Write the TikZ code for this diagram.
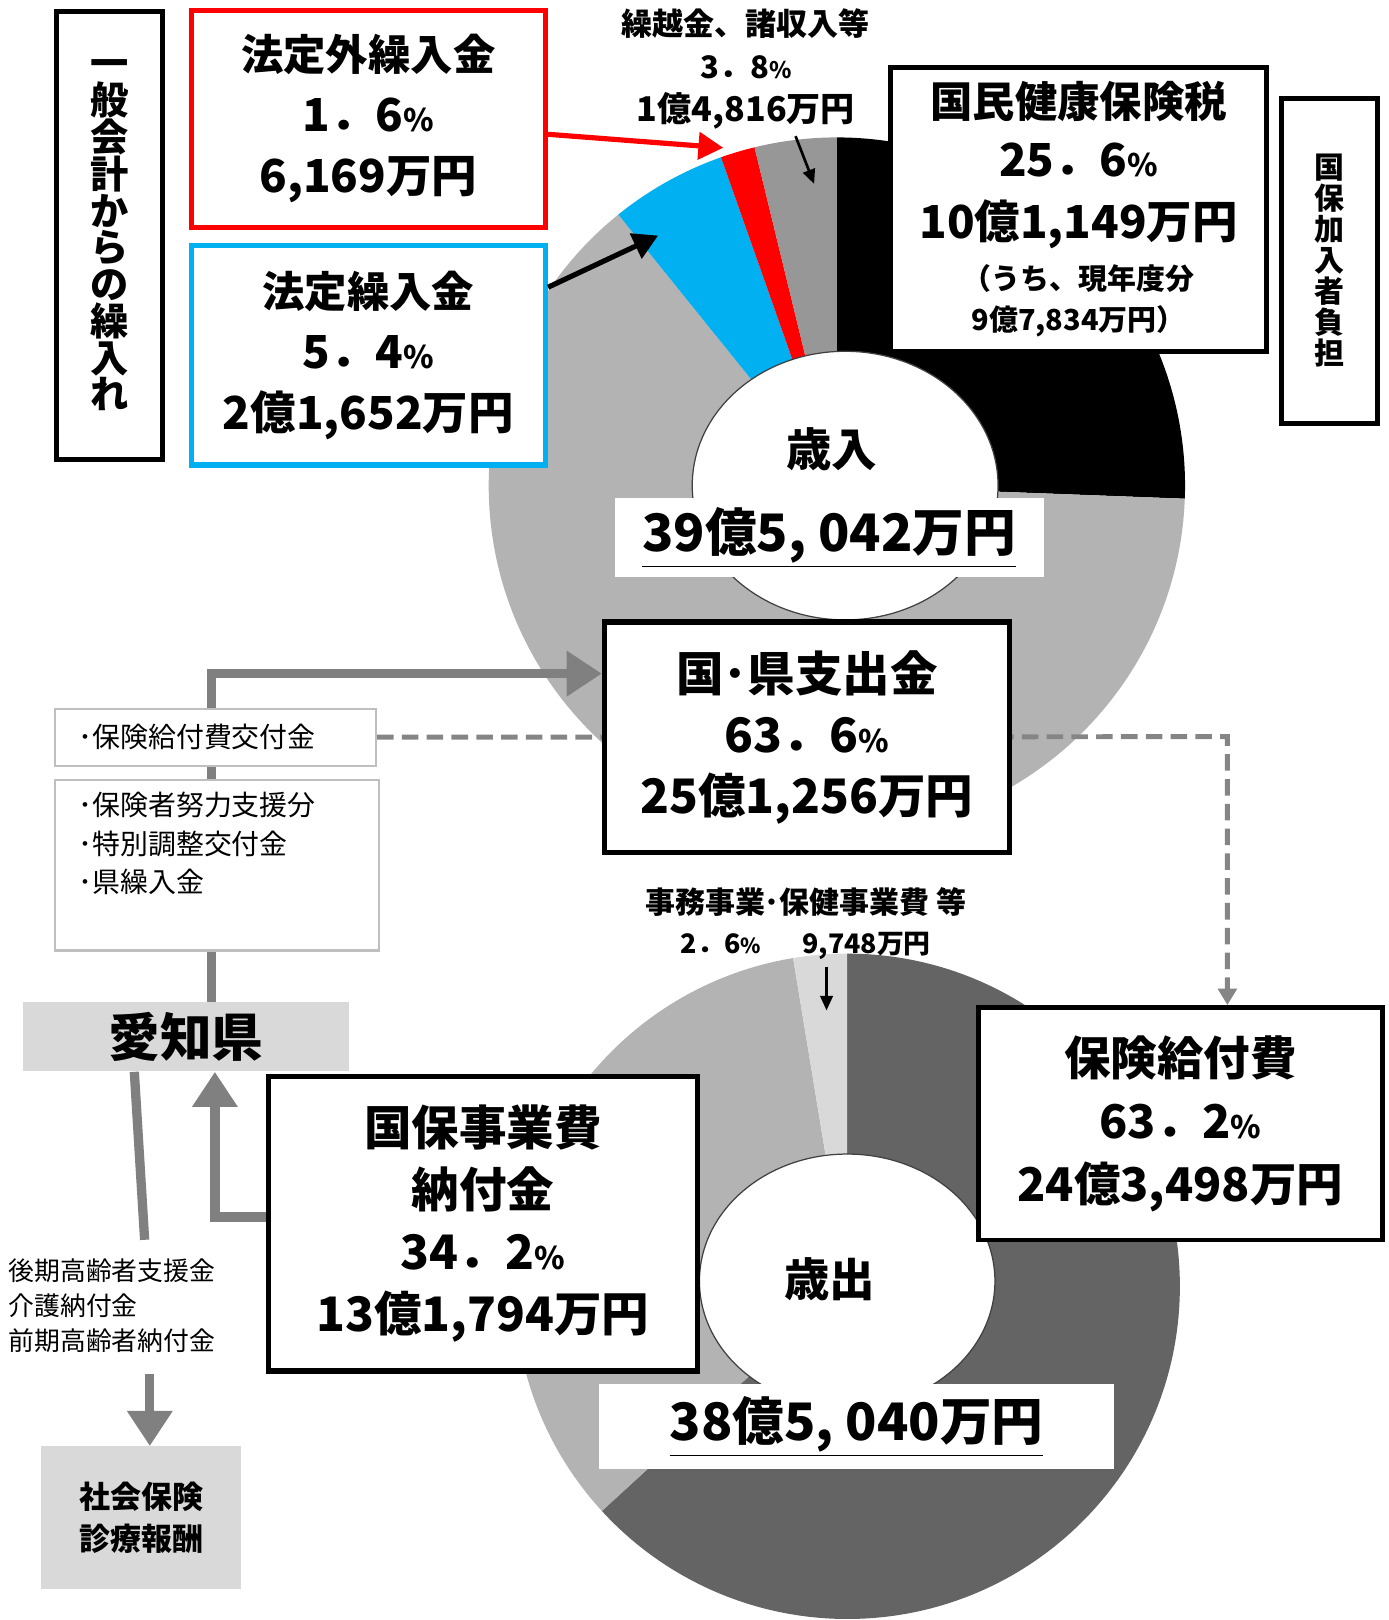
\documentclass[tikz,border=0pt]{standalone}
\usepackage{fontspec}
\setmainfont{Noto Sans CJK JP}
\usetikzlibrary{positioning,calc,arrows.meta}
\definecolor{pieA}{HTML}{B3B3B3}
\definecolor{pieB}{HTML}{979797}
\definecolor{pieDark}{HTML}{646464}
\definecolor{pieLight}{HTML}{D9D9D9}
\definecolor{kuBlue}{HTML}{00B0F0}
\definecolor{flowGrey}{HTML}{808080}
\definecolor{dashGrey}{HTML}{858585}
\definecolor{boxGrey}{HTML}{BFBFBF}
\newcommand{\fz}[1]{\fontsize{#1}{\baselineskip}\selectfont}
\newcommand{\pcs}{{\fz{15}\%}}
\newcommand{\tightls}{\lineskiplimit-50pt\relax}
\pgfdeclarelayer{pielayer}
\pgfdeclarelayer{linklayer}
\pgfsetlayers{pielayer,linklayer,main}

\begin{document}
\begin{tikzpicture}[x=0.5pt, y=-0.5pt,
    kin box/.style={draw, line width=2.5pt, fill=white, align=center, inner sep=0pt,
      font={\bfseries\fontsize{22}{29.5}\selectfont\tightls}},
    grey box/.style={draw=boxGrey, line width=1pt, fill=white, align=left, inner xsep=11.5pt,
      font={\fontsize{13.5}{18.5}\selectfont}},
    flow/.style={draw=flowGrey, line width=4.5pt},
    flow tip/.style={-{Triangle[length=17pt,width=21pt]}},
    dash flow/.style={draw=dashGrey, line width=2.4pt, dash pattern=on 8pt off 4pt,
      -{Triangle[length=8pt,width=9pt]}},
    thin arrow/.style={line width=1.3pt, -{Triangle[length=7pt,width=6pt]}},
    node distance=6pt]

    \useasboundingbox (0,0) rectangle (1344,1568);

    % revenue donut
    \coordinate (topc) at (810,470);
    \begin{pgfonlayer}{pielayer}
    \begin{scope}[shift={(topc)}, x=0.5pt, y=0.5pt]
        \fill[black] (0,0) -- (90:337) arc[start angle=90, end angle=-2.16, radius=337] -- cycle;
        \fill[pieA] (0,0) -- (-2.16:337) arc[start angle=-2.16, end angle=-231.12, radius=337] -- cycle;
        \fill[kuBlue] (0,0) -- (-231.12:337) arc[start angle=-231.12, end angle=-250.56, radius=337] -- cycle;
        \fill[red] (0,0) -- (-250.56:337) arc[start angle=-250.56, end angle=-256.32, radius=337] -- cycle;
        \fill[pieB] (0,0) -- (-256.32:337) arc[start angle=-256.32, end angle=-270, radius=337] -- cycle;
        \filldraw[fill=white, draw=black!75, line width=0.6pt] (8,0) ellipse[x radius=148, y radius=130];
    \end{scope}
    \end{pgfonlayer}

    % expenditure donut
    \coordinate (botc) at (820,1245);
    \begin{pgfonlayer}{pielayer}
    \begin{scope}[shift={(botc)}, x=0.5pt, y=0.5pt]
        \fill[pieDark] (0,0) -- (90:322) arc[start angle=90, end angle=-137.52, radius=322] -- cycle;
        \fill[pieA] (0,0) -- (-137.52:322) arc[start angle=-137.52, end angle=-260.64, radius=322] -- cycle;
        \fill[pieLight] (0,0) -- (-260.64:322) arc[start angle=-260.64, end angle=-270, radius=322] -- cycle;
        \filldraw[fill=white, draw=black!75, line width=0.6pt] (0,5) ellipse[x radius=143, y radius=123];
    \end{scope}
    \end{pgfonlayer}

    \node[kin box, minimum width=51pt, minimum height=216.5pt,
      font={\bfseries\fontsize{18.5}{17.8}\selectfont\tightls}] (ippan) at (106,228)
      {一\\般\\会\\計\\か\\ら\\の\\繰\\入\\れ};
    \node[kin box, draw=red, minimum width=171.5pt, minimum height=105pt] (hougai) at (356.5,115)
      {{\fz{20.5}法定外繰入金}\\1．6\pcs\\6,169万円};
    \node[kin box, draw=kuBlue, minimum width=171.5pt, minimum height=106pt, below=6.5pt of hougai] (houtei)
      {{\fz{20.5}法定繰入金}\\5．4\pcs\\2億1,652万円};

    \node[font={\bfseries\fontsize{15}{20.75}\selectfont}, align=center] (kurikoshi) at (722,66.5)
      {繰越金、諸収入等\\3．8{\fz{11}\%}\\{\fz{16.5}1億4,816万円}};
    \node[kin box, minimum width=182pt, minimum height=137.5pt,
      font={\bfseries\fontsize{22}{20}\selectfont\tightls}] (hokenzei) at (1044,202.5)
      {{\fz{20.5}国民健康保険税}\\[8.5pt]25．6\pcs\\[10pt]10億1,149万円\\[5pt]{\fz{14}（うち、現年度分}\\{\fz{14}9億7,834万円）}};
    \node[kin box, minimum width=46.5pt, minimum height=157.5pt,
      font={\bfseries\fontsize{14.5}{15}\selectfont\tightls}] (futan) at (1286.5,252.5)
      {国\\保\\加\\入\\者\\負\\担};

    \node[font={\bfseries\fontsize{22}{22}\selectfont}] (sainyu) at (805,435) {歳入};
    \node[fill=white, minimum width=207.5pt, minimum height=38pt,
      font={\bfseries\fontsize{25}{25}\selectfont}] (sainyugaku) at (802.5,520) {\underline{39億5, 042万円}};

    \node[kin box, minimum width=196pt, minimum height=111.5pt,
      font={\bfseries\fontsize{23}{29.5}\selectfont\tightls}] (kuniken) at (781,713.5)
      {国･県支出金\\63．6\pcs\\25億1,256万円};

    \node[grey box, anchor=north west, text width=132.5pt, minimum height=27.5pt] (kofu) at (52,685)
      {･保険給付費交付金};
    \node[grey box, below=6pt of kofu.south west, anchor=north west, inner ysep=6pt] (kenlist)
      {\parbox[t][70.5pt][t]{134pt}{\raggedright ･保険者努力支援分\\･特別調整交付金\\･県繰入金}};

    \node[fill=pieLight, minimum width=158pt, minimum height=33.5pt,
      font={\bfseries\fontsize{25}{25}\selectfont}] (aichi) at (180,1003.5) {愛知県};
    \node[anchor=west, align=left, inner xsep=0pt, font={\fontsize{12.5}{17}\selectfont}] (kouki) at (8,1264)
      {後期高齢者支援金\\介護納付金\\前期高齢者納付金};
    \node[fill=pieLight, minimum width=96.5pt, minimum height=69pt, align=center,
      font={\bfseries\fontsize{15}{20}\selectfont}] (shaho) at (136.5,1469) {社会保険\\診療報酬};

    \node[font={\bfseries\fontsize{14.5}{19}\selectfont}, align=center] (jimu) at (780,894)
      {事務事業･保健事業費 等\\{\fz{13}2．6{\fz{10}\%}\hspace{20pt}9,748万円}};
    \node[kin box, line width=2.2pt, minimum width=195.5pt, minimum height=112.5pt,
      font={\bfseries\fontsize{22.5}{30.5}\selectfont\tightls}] (kyufuhi) at (1142.5,1087.5)
      {保険給付費\\63．2\pcs\\24億3,498万円};
    \node[kin box, minimum width=207.5pt, minimum height=142.5pt,
      font={\bfseries\fontsize{23}{30}\selectfont\tightls}] (noufu) at (467.5,1184.5)
      {国保事業費\\納付金\\34．2\pcs\\13億1,794万円};
    \node[font={\bfseries\fontsize{22}{22}\selectfont}] (saishutsu) at (803,1238) {歳出};
    \node[fill=white, minimum width=249pt, minimum height=41pt,
      font={\bfseries\fontsize{25}{25}\selectfont}] (saishutsugaku) at (829,1381) {\underline{38億5, 040万円}};

    % connectors
    \coordinate (redtip) at (700,143);
    \coordinate (bluetip) at (637,228);
    \coordinate (kurikoshitip) at (788,178);
    \coordinate (jimutip) at (800,978);
    \coordinate (dashturn) at (1188,713);
    \coordinate (koukitop) at (140,1200);
    \coordinate (koukibot) at (145,1330);

    \draw[red, line width=2.5pt, -{Triangle[length=12pt,width=13pt]}] ([yshift=-7.5pt]hougai.east) -- (redtip);
    \draw[black, line width=2.5pt, -{Triangle[length=12pt,width=13pt]}] ([yshift=33pt]houtei.east) -- (bluetip);
    \draw[thin arrow] ([xshift=24pt]kurikoshi.south) -- (kurikoshitip);
    \draw[thin arrow] ([xshift=10pt]jimu.south) -- (jimutip);

    \begin{pgfonlayer}{linklayer}
    \draw[flow, flow tip] ([xshift=12.5pt]aichi.north) |- ([yshift=30.75pt]kuniken.west);
    \draw[dash flow] (kofu.east) -- (dashturn) -- (dashturn |- kyufuhi.north);
    \draw[flow, flow tip] ([yshift=3.25pt]noufu.west) -| ([xshift=14pt]aichi.south);
    \draw[flow] ([xshift=-25pt]aichi.south) -- (koukitop);
    \draw[flow, flow tip] (koukibot) -- ([xshift=4.25pt]shaho.north);
    \end{pgfonlayer}

\end{tikzpicture}
\end{document}
